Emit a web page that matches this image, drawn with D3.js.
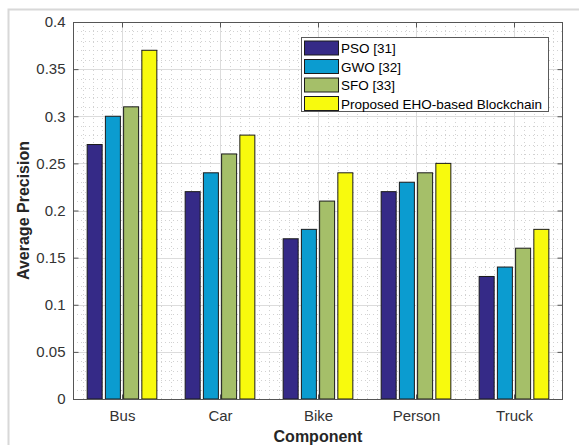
<!DOCTYPE html>
<html><head><meta charset="utf-8">
<script src="https://cdn.jsdelivr.net/npm/d3@7"></script>
<style>html,body{margin:0;padding:0;background:#fff;}svg{display:block;font-family:"Liberation Sans",Arial,sans-serif;}</style>
</head><body>
<script>
const categories = ["Bus", "Car", "Bike", "Person", "Truck"];
const seriesNames = ["PSO [31]", "GWO [32]", "SFO [33]", "Proposed EHO-based Blockchain"];
const psoValues = [0.27, 0.22, 0.17, 0.22, 0.13];
const gwoValues = [0.30, 0.24, 0.18, 0.23, 0.14];
const sfoValues = [0.31, 0.26, 0.21, 0.24, 0.16];
const ehoValues = [0.37, 0.28, 0.24, 0.25, 0.18];
const seriesColors = ["#352a87", "#0b9cd0", "#a5bf69", "#f8fa0d"];
const yTicks = [0, 0.05, 0.1, 0.15, 0.2, 0.25, 0.3, 0.35, 0.4];
const yTickLabels = ["0", "0.05", "0.1", "0.15", "0.2", "0.25", "0.3", "0.35", "0.4"];

const series = [psoValues, gwoValues, sfoValues, ehoValues];
const W = 579, H = 445;
const m = {left: 73, top: 22, right: 563, bottom: 399};

const svg = d3.select("body").append("svg").attr("width", W).attr("height", H);

// figure frame
svg.append("path").attr("d", `M8.5,${H} V9.5 H${W}`).attr("fill", "none")
  .attr("stroke", "#d8d8d8").attr("stroke-width", 2);

const x = d3.scaleLinear().domain([0.5, 5.5]).range([m.left, m.right]);
const y = d3.scaleLinear().domain([0, 0.4]).range([m.bottom, m.top]);

const g = svg.append("g");
// minor grid
const yMinor = d3.range(0, 0.4001, 0.01).filter(v => Math.abs(v*20 - Math.round(v*20)) > 1e-6);
g.selectAll(".ymin").data(yMinor).join("line")
  .attr("x1", m.left).attr("x2", m.right)
  .attr("y1", d => Math.round(y(d)) + 0.5).attr("y2", d => Math.round(y(d)) + 0.5)
  .attr("stroke", "#d2d2d2").attr("stroke-dasharray", "1,3");
const xMinor = d3.range(0.5, 5.5001, 0.1).filter(v => Math.abs(v - Math.round(v)) > 1e-6 && v > 0.55 && v < 5.45);
g.selectAll(".xmin").data(xMinor).join("line")
  .attr("y1", m.top).attr("y2", m.bottom)
  .attr("x1", d => Math.round(x(d)) + 0.5).attr("x2", d => Math.round(x(d)) + 0.5)
  .attr("stroke", "#d2d2d2").attr("stroke-dasharray", "1,3");
// major grid
g.selectAll(".ymaj").data(yTicks.slice(1, -1)).join("line")
  .attr("x1", m.left).attr("x2", m.right)
  .attr("y1", d => Math.round(y(d)) + 0.5).attr("y2", d => Math.round(y(d)) + 0.5)
  .attr("stroke", "#dcdcdc");
g.selectAll(".xmaj").data(d3.range(1, 6)).join("line")
  .attr("y1", m.top).attr("y2", m.bottom)
  .attr("x1", d => Math.round(x(d)) + 0.5).attr("x2", d => Math.round(x(d)) + 0.5)
  .attr("stroke", "#dcdcdc");

// bars
const spacing = 0.186, bw = 0.153;
series.forEach((vals, si) => {
  svg.append("g").selectAll("rect").data(vals).join("rect")
    .attr("x", (d, i) => x(i + 1 + (si - 1.5) * spacing - bw / 2))
    .attr("width", x(bw) - x(0))
    .attr("y", d => y(d))
    .attr("height", d => y(0) - y(d))
    .attr("fill", seriesColors[si])
    .attr("stroke", "#1a1a1a").attr("stroke-width", 1);
});

// axes box
svg.append("rect").attr("x", m.left + 0.5).attr("y", m.top + 0.5)
  .attr("width", m.right - m.left - 1).attr("height", m.bottom - m.top)
  .attr("fill", "none").attr("stroke", "#555").attr("stroke-width", 1);

const yAxisL = d3.axisLeft(y).tickValues(yTicks).tickFormat((d, i) => yTickLabels[i]).tickSizeInner(-5).tickSizeOuter(0).tickPadding(8);
const yAxisR = d3.axisRight(y).tickValues(yTicks).tickFormat("").tickSizeInner(-5).tickSizeOuter(0);
const xAxisB = d3.axisBottom(x).tickValues(d3.range(1, 6)).tickFormat((d) => categories[d - 1]).tickSizeInner(-5).tickSizeOuter(0).tickPadding(11);
const xAxisT = d3.axisTop(x).tickValues(d3.range(1, 6)).tickFormat("").tickSizeInner(-5).tickSizeOuter(0);

function style(sel) {
  sel.select(".domain").remove();
  sel.selectAll("line").attr("stroke", "#555");
  sel.selectAll("text").attr("fill", "#333").attr("font-size", "15px");
}
svg.append("g").attr("transform", `translate(${m.left + 0.5},0)`).call(yAxisL).call(style);
svg.append("g").attr("transform", `translate(${m.right - 0.5},0)`).call(yAxisR).call(style);
svg.append("g").attr("transform", `translate(0,${m.bottom + 0.5})`).call(xAxisB).call(style);
svg.append("g").attr("transform", `translate(0,${m.top + 0.5})`).call(xAxisT).call(style);

// axis labels
svg.append("text").attr("x", (m.left + m.right) / 2).attr("y", 442)
  .attr("text-anchor", "middle").attr("font-weight", "bold").attr("font-size", "16px")
  .attr("fill", "#262626").text("Component");
svg.append("text").attr("transform", `translate(29,${(m.top + m.bottom) / 2}) rotate(-90)`)
  .attr("text-anchor", "middle").attr("font-weight", "bold").attr("font-size", "16px")
  .attr("fill", "#262626").text("Average Precision");

// legend
const lg = svg.append("g");
lg.append("rect").attr("x", 301.5).attr("y", 37.5).attr("width", 247).attr("height", 74)
  .attr("fill", "#fff").attr("stroke", "#5a5a5a").attr("stroke-width", 1);
seriesNames.forEach((name, i) => {
  const cy = 48 + i * 18.5;
  lg.append("rect").attr("x", 304.5).attr("y", cy - 7).attr("width", 34).attr("height", 14)
    .attr("fill", seriesColors[i]).attr("stroke", "#1a1a1a");
  lg.append("text").attr("x", 341).attr("y", cy + 5).attr("font-size", "13.5px")
    .attr("fill", "#000").text(name);
});
</script>
</body></html>
